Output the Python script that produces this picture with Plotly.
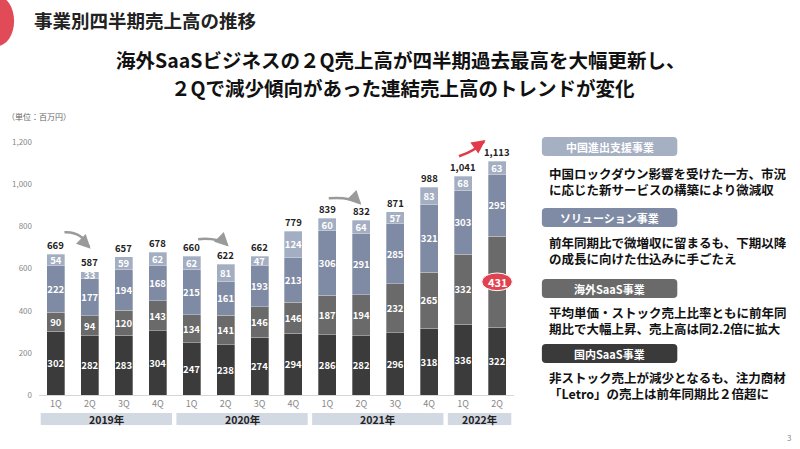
import plotly.graph_objects as go

# ---------------- data ----------------
quarters = ["1Q", "2Q", "3Q", "4Q", "1Q", "2Q", "3Q", "4Q", "1Q", "2Q", "3Q", "4Q", "1Q", "2Q"]
years = ["2019年", "2020年", "2021年", "2022年"]
year_spans = [(0, 3), (4, 7), (8, 11), (12, 13)]
domestic_saas = [302, 282, 283, 304, 247, 238, 274, 294, 286, 282, 296, 318, 336, 322]
overseas_saas = [90, 94, 120, 143, 134, 141, 146, 146, 187, 194, 232, 265, 332, 431]
solution = [222, 177, 194, 168, 215, 161, 193, 213, 306, 291, 285, 321, 303, 295]
china = [54, 33, 59, 62, 62, 81, 47, 124, 60, 64, 57, 83, 68, 63]
totals = [669, 587, 657, 678, 660, 622, 662, 779, 839, 832, 871, 988, 1041, 1113]
highlight_idx = 13

FONT = "Noto Sans CJK JP"
W, H = 800, 449
L, R, T, B = 37, 286, 136, 54
PW = W - L - R
PH = H - T - B
xs = list(range(len(quarters)))


def px(x):
    return (x - L) / PW


def py(y):
    return (H - B - y) / PH


def rrect(x0, y0, x1, y1, r=4):
    a0, a1 = px(x0), px(x1)
    b0, b1 = py(y1), py(y0)
    rx, ry = r / PW, r / PH
    return (f"M {a0+rx},{b0} L {a1-rx},{b0} Q {a1},{b0} {a1},{b0+ry} "
            f"L {a1},{b1-ry} Q {a1},{b1} {a1-rx},{b1} L {a0+rx},{b1} "
            f"Q {a0},{b1} {a0},{b1-ry} L {a0},{b0+ry} Q {a0},{b0} {a0+rx},{b0} Z")


fig = go.Figure()
series = [
    ("国内SaaS事業", domestic_saas, "#3b3b3b"),
    ("海外SaaS事業", overseas_saas, "#6a6a6a"),
    ("ソリューション事業", solution, "#7f8ba4"),
    ("中国進出支援事業", china, "#a4aec2"),
]
for name, vals, col in series:
    txt = [("" if (vals is overseas_saas and i == highlight_idx) else str(v)) for i, v in enumerate(vals)]
    fig.add_trace(go.Bar(
        x=xs, y=vals, name=name, marker=dict(color=col, line=dict(color="rgba(255,255,255,0.5)", width=0.6)),
        text=txt, textposition="inside", insidetextanchor="middle", textangle=0,
        textfont=dict(family=FONT, size=9.5, color="white", weight="bold"),
        hoverinfo="skip",
    ))

annotations = []
shapes = []

# totals
for i, t in enumerate(totals):
    annotations.append(dict(x=i, y=t, text=f"{t:,}", showarrow=False, yanchor="middle", yshift=9,
                            font=dict(family=FONT, size=9.5, color="#222", weight="bold")))

# highlight oval
mid = domestic_saas[highlight_idx] + overseas_saas[highlight_idx] / 2
shapes.append(dict(type="circle", xref="x", yref="y", x0=highlight_idx - 0.45, x1=highlight_idx + 0.45,
                   y0=mid - 42, y1=mid + 42, fillcolor="#e0434f", line=dict(color="white", width=1), layer="above"))
annotations.append(dict(x=highlight_idx, y=mid, text=str(overseas_saas[highlight_idx]), showarrow=False,
                        yanchor="middle",
                        font=dict(family=FONT, size=11, color="white", weight="bold")))

# curved arrows
arrows = [
    ((0.25, 773), (0.75, 778), (0.98, 703), "#9a9a9a"),
    ((4.19, 740), (4.75, 748), (5.05, 713), "#9a9a9a"),
    ((8.04, 934), (8.6, 942), (8.96, 912), "#9a9a9a"),
    ((11.88, 1134), (12.35, 1160), (12.62, 1205), "#e23a48"),
]
for (x0, y0), (cx, cy), (x1, y1), col in arrows:
    shapes.append(dict(type="path", xref="x", yref="y", path=f"M {x0},{y0} Q {cx},{cy} {x1},{y1}",
                       line=dict(color=col, width=2.5), layer="above"))
    annotations.append(dict(x=x1 + 0.04, y=y1 - (8 if y1 < y0 else -6), xref="x", yref="y", text="",
                            showarrow=True, arrowhead=2, arrowsize=1.1, arrowwidth=2.5, arrowcolor=col,
                            ax=-7, ay=(-7 if y1 < y0 else 5)))

# year boxes
for (a, b), yl in zip(year_spans, years):
    shapes.append(dict(type="rect", xref="x", yref="paper", x0=a - 0.45, x1=b + 0.42,
                       y0=py(425), y1=py(413), fillcolor="#d3d9e3", line=dict(width=0), layer="below"))
    annotations.append(dict(x=(a + b) / 2, y=py(419), xref="x", yref="paper", text=yl, showarrow=False,
                            yanchor="middle",
                            font=dict(family=FONT, size=10.5, color="#222", weight="bold")))

# header decorations
shapes.append(dict(type="circle", xref="paper", yref="paper", x0=px(-22), x1=px(12), y0=py(46), y1=py(-4),
                   fillcolor="#e14b57", line=dict(width=0)))
annotations.append(dict(x=px(30), y=py(20), xref="paper", yref="paper", xanchor="left", yanchor="middle",
                        text="事業別四半期売上高の推移", showarrow=False,
                        font=dict(family=FONT, size=18.5, color="#222", weight="bold")))
annotations.append(dict(x=px(400), y=py(60), xref="paper", yref="paper", xanchor="center", yanchor="middle",
                        text="海外SaaSビジネスの２Q売上高が四半期過去最高を大幅更新し、", showarrow=False,
                        font=dict(family=FONT, size=19.5, color="#111", weight="bold")))
annotations.append(dict(x=px(403), y=py(88), xref="paper", yref="paper", xanchor="center", yanchor="middle",
                        text="２Qで減少傾向があった連結売上高のトレンドが変化", showarrow=False,
                        font=dict(family=FONT, size=19.5, color="#111", weight="bold")))
annotations.append(dict(x=px(3), y=py(117), xref="paper", yref="paper", xanchor="left", yanchor="middle",
                        text="（単位：百万円）", showarrow=False,
                        font=dict(family=FONT, size=8, color="#666")))
annotations.append(dict(x=px(790), y=py(437), xref="paper", yref="paper", xanchor="center", yanchor="middle",
                        text="3", showarrow=False, font=dict(family=FONT, size=8, color="#888")))

# right panel
panel = [
    ("中国進出支援事業", "#a6b0c3", 137, 156, ["中国ロックダウン影響を受けた一方、市況", "に応じた新サービスの構築により微減収"], 173),
    ("ソリューション事業", "#7f8ba4", 208, 227, ["前年同期比で微増収に留まるも、下期以降", "の成長に向けた仕込みに手ごたえ"], 242),
    ("海外SaaS事業", "#6a6a6a", 279, 298, ["平均単価・ストック売上比率ともに前年同", "期比で大幅上昇、売上高は同2.2倍に拡大"], 312),
    ("国内SaaS事業", "#3a3a3a", 344, 363, ["非ストック売上が減少となるも、注力商材", "「Letro」の売上は前年同期比２倍超に"], 377),
]
for title, col, y0, y1, lines, ly in panel:
    shapes.append(dict(type="path", xref="paper", yref="paper", path=rrect(542, y0, 678, y1, 4),
                       fillcolor=col, line=dict(width=0)))
    annotations.append(dict(x=px(610), y=py((y0 + y1) / 2), xref="paper", yref="paper", xanchor="center",
                            yanchor="middle", text=title, showarrow=False,
                            font=dict(family=FONT, size=11, color="white", weight="bold")))
    annotations.append(dict(x=px(547), y=py(ly + 8), xref="paper", yref="paper", xanchor="left",
                            yanchor="middle", align="left", text="<br>".join(lines), showarrow=False,
                            font=dict(family=FONT, size=12.5, color="#111", weight="bold")))

fig.update_layout(
    width=W, height=H, margin=dict(l=L, r=R, t=T, b=B),
    paper_bgcolor="white", plot_bgcolor="white",
    barmode="stack", bargap=0.47, showlegend=False,
    uniformtext=dict(mode="show", minsize=9.5),
    annotations=annotations, shapes=shapes,
    xaxis=dict(range=[-0.5, len(quarters) - 0.5], tickmode="array", tickvals=xs, ticktext=quarters,
               showgrid=False, zeroline=False, showline=True, linecolor="#d6d6d6", linewidth=1,
               ticks="", tickfont=dict(family=FONT, size=9, color="#888")),
    yaxis=dict(range=[0, 1230], tickvals=[0, 200, 400, 600, 800, 1000, 1200], tickformat=",",
               showgrid=False, zeroline=False, showline=False, ticks="",
               tickfont=dict(family=FONT, size=8, color="#888"), ticklabelstandoff=6),
)

fig.write_html("out.html", config={"displayModeBar": False},
               post_script="document.body.style.margin='0';document.body.style.overflow='hidden';")
